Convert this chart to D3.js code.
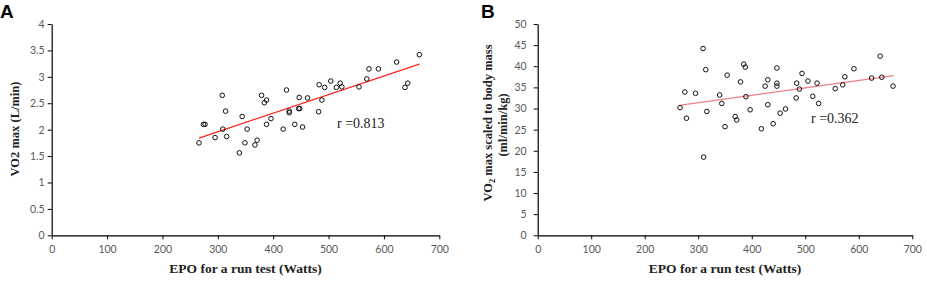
<!DOCTYPE html>
<html>
<head>
<meta charset="utf-8">
<script src="https://cdn.jsdelivr.net/npm/d3@7"></script>
<style>
  body { margin: 0; background: #fff; }
  .tick text { font-family: Lato, "Liberation Sans", sans-serif; font-size: 10.5px; fill: #595959; }
  .axis path, .axis line { stroke: #000; }
  .axis-title { font-family: "Liberation Serif", "Times New Roman", serif; font-weight: bold; font-size: 12.5px; fill: #222; }
  .x-title { font-size: 13.5px; }
  .r-label { font-family: "Liberation Serif", "Times New Roman", serif; font-size: 14px; fill: #222; }
  .panel-letter { font-family: "Liberation Sans", Arial, sans-serif; font-weight: bold; font-size: 19px; }
</style>
</head>
<body>
<div id="chart"></div>
<script>
// Panel A: EPO (W) vs VO2 max (L/min)
const epoA = [266, 274, 277, 295, 308, 309, 314, 316, 339, 344, 349, 353, 367, 371, 379, 384, 388, 388, 396,
  418, 424, 429, 429, 439, 447, 446, 448, 453, 462, 482, 483, 488, 493, 504, 514, 521, 524, 555, 569, 573,
  590, 623, 638, 643, 664];
const vo2A = [1.75, 2.10, 2.10, 1.85, 2.65, 2.01, 2.35, 1.87, 1.56, 2.25, 1.75, 2.01, 1.71, 1.80, 2.65, 2.51, 2.56, 2.10, 2.21,
  2.01, 2.75, 2.35, 2.32, 2.10, 2.61, 2.40, 2.40, 2.05, 2.60, 2.34, 2.85, 2.56, 2.80, 2.92, 2.80, 2.88, 2.81, 2.81, 2.96, 3.15,
  3.15, 3.28, 2.80, 2.88, 3.42];
const trendA = [[266, 1.84], [664, 3.24]];
const rA = 'r =0.813';

// Panel B: EPO (W) vs VO2 max scaled to body mass (ml/min/kg)
const epoB = [266, 275, 278, 295, 309, 310, 314, 316, 340, 344, 350, 354, 369, 372, 379, 385, 388, 389, 397,
  418, 425, 430, 430, 440, 447, 447, 447, 453, 463, 483, 484, 489, 494, 505, 514, 522, 525, 556, 570, 574,
  591, 624, 640, 643, 664];
const vo2B = [30.2, 33.9, 27.7, 33.6, 44.2, 18.5, 39.2, 29.3, 33.2, 31.2, 25.7, 37.9, 28.1, 27.3, 36.3, 40.5, 39.8, 32.8, 29.7,
  25.2, 35.3, 36.8, 30.9, 26.4, 39.6, 36.0, 35.3, 28.9, 29.9, 32.5, 36.0, 34.6, 38.3, 36.5, 32.9, 36.0, 31.2, 34.7, 35.6, 37.5,
  39.4, 37.2, 42.4, 37.4, 35.3];
const trendB = [[267, 30.8], [665, 37.8]];
const rB = 'r =0.362';

const xTicks = [0, 100, 200, 300, 400, 500, 600, 700];
const yTicksA = [0, 0.5, 1, 1.5, 2, 2.5, 3, 3.5, 4];
const yTicksB = [0, 5, 10, 15, 20, 25, 30, 35, 40, 45, 50];

const svg = d3.select('#chart').append('svg')
  .attr('width', 927)
  .attr('height', 282);

function drawPanel(opts) {
  const g = svg.append('g');
  const x = d3.scaleLinear().domain([0, 700]).range([opts.left, opts.right]);
  const y = d3.scaleLinear().domain([0, opts.yMax]).range([235.3, 24]);

  g.append('g')
    .attr('class', 'axis')
    .attr('transform', 'translate(0,235.3)')
    .call(d3.axisBottom(x).tickValues(xTicks).tickSize(4).tickPadding(6).tickSizeOuter(0))
    .call(a => a.select('.domain').attr('stroke-width', 1.2));

  g.append('g')
    .attr('class', 'axis')
    .attr('transform', `translate(${opts.left},0)`)
    .call(d3.axisLeft(y).tickValues(opts.yTicks).tickFormat(d => String(d))
      .tickSize(4).tickPadding(opts.yPad).tickSizeOuter(0))
    .call(a => a.select('.domain').attr('stroke-width', 1.2));

  // regression line
  g.append('path')
    .datum(opts.trend)
    .attr('fill', 'none')
    .attr('stroke', opts.lineColor)
    .attr('stroke-width', 1.2)
    .attr('d', d3.line().x(d => x(d[0])).y(d => y(d[1])));

  // points
  g.selectAll('circle')
    .data(opts.xs.map((v, i) => [v, opts.ys[i]]))
    .enter()
    .append('circle')
    .attr('cx', d => x(d[0]))
    .attr('cy', d => y(d[1]))
    .attr('r', 2.3)
    .attr('fill', 'none')
    .attr('stroke', '#111')
    .attr('stroke-width', 1);

  g.append('text')
    .attr('class', 'r-label')
    .attr('x', opts.rPos[0])
    .attr('y', opts.rPos[1])
    .text(opts.rText);

  g.append('text')
    .attr('class', 'axis-title x-title')
    .attr('x', x(350))
    .attr('y', 273)
    .attr('text-anchor', 'middle')
    .text('EPO for a run test (Watts)');

  g.append('text')
    .attr('class', 'panel-letter')
    .attr('x', opts.letterX)
    .attr('y', 18)
    .text(opts.letter);
  return g;
}

const gA = drawPanel({
  left: 51.7, right: 439.3, yMax: 4, yTicks: yTicksA, yPad: 3,
  xs: epoA, ys: vo2A, trend: trendA, lineColor: '#ff2020',
  rText: rA, rPos: [337, 128], letter: 'A', letterX: 0
});

gA.append('text')
  .attr('class', 'axis-title')
  .attr('transform', 'translate(19,129) rotate(-90)')
  .attr('text-anchor', 'middle')
  .text('VO2 max (L/min)');

const gB = drawPanel({
  left: 537.7, right: 912.3, yMax: 50, yTicks: yTicksB, yPad: 7,
  xs: epoB, ys: vo2B, trend: trendB, lineColor: '#f08080',
  rText: rB, rPos: [811, 123], letter: 'B', letterX: 481
});

const yTitleB = gB.append('text')
  .attr('class', 'axis-title')
  .attr('transform', 'translate(492,123) rotate(-90)')
  .attr('text-anchor', 'middle');
yTitleB.append('tspan').text('VO');
yTitleB.append('tspan').attr('font-size', '8.5px').attr('dy', 3).text('2');
yTitleB.append('tspan').attr('dy', -3).text(' max scaled to body mass');

gB.append('text')
  .attr('class', 'axis-title')
  .attr('transform', 'translate(507,125) rotate(-90)')
  .attr('text-anchor', 'middle')
  .text('(ml/min/kg)');
</script>
</body>
</html>
